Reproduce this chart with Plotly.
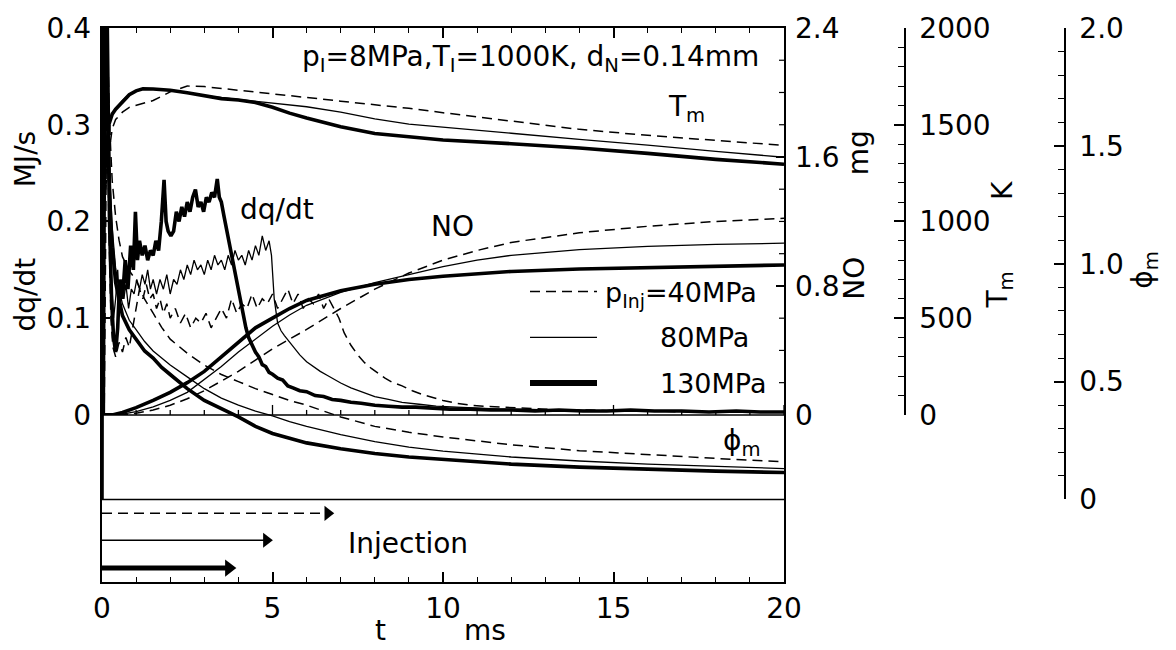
import plotly.graph_objects as go

# ---------------- data ----------------
dq_t130 = [0, 0.03, 0.06, 0.1, 0.14, 0.18, 0.22, 0.28, 0.34, 0.4, 0.46, 0.52, 0.6, 0.68, 0.76, 0.84, 0.92, 0.98,
           1.04, 1.1, 1.18, 1.26, 1.34, 1.42, 1.5, 1.58, 1.66, 1.74, 1.82, 1.88, 1.94, 2.02, 2.1, 2.18, 2.26, 2.34,
           2.42, 2.5, 2.58, 2.66, 2.74, 2.82, 2.9, 2.98, 3.06, 3.14, 3.22, 3.3, 3.38, 3.44, 3.5, 3.58, 3.66, 3.74,
           3.82, 3.9, 3.98, 4.06, 4.14, 4.22, 4.3, 4.4, 4.5, 4.6, 4.7, 4.8, 4.9, 5.0, 5.15, 5.3, 5.45, 5.6, 5.8,
           6.0, 6.25, 6.5, 6.75, 7.0, 7.3, 7.6, 8.0, 8.4, 8.8, 9.2, 9.7, 10.2, 10.8, 11.4, 12, 12.7, 13.4, 14.1,
           14.8, 15.5, 16.2, 17, 17.8, 18.6, 19.3, 20]
dq_130 = [0, -0.08, 0.2, 0.45, 0.45, 0.3, 0.2, 0.12, 0.08, 0.065, 0.09, 0.14, 0.12, 0.16, 0.13, 0.175, 0.15, 0.21,
          0.16, 0.18, 0.165, 0.175, 0.16, 0.17, 0.165, 0.18, 0.17, 0.2, 0.243, 0.2, 0.19, 0.185, 0.19, 0.21, 0.2,
          0.215, 0.205, 0.22, 0.21, 0.225, 0.233, 0.215, 0.22, 0.21, 0.225, 0.22, 0.23, 0.225, 0.244, 0.225, 0.22,
          0.205, 0.19, 0.175, 0.16, 0.145, 0.135, 0.12, 0.105, 0.09, 0.08, 0.072, 0.065, 0.06, 0.052, 0.05, 0.044,
          0.042, 0.038, 0.036, 0.03, 0.028, 0.025, 0.024, 0.02, 0.019, 0.016, 0.015, 0.013, 0.012, 0.01, 0.009,
          0.008, 0.008, 0.007, 0.006, 0.006, 0.005, 0.005, 0.004, 0.005, 0.004, 0.004, 0.005, 0.004, 0.004, 0.003,
          0.004, 0.003, 0.003]

dq_t80 = [0, 0.04, 0.08, 0.12, 0.17, 0.22, 0.28, 0.34, 0.4, 0.46, 0.52, 0.58, 0.64, 0.7, 0.78, 0.86, 0.94, 1.02,
          1.1, 1.18, 1.26, 1.34, 1.42, 1.5, 1.6, 1.7, 1.8, 1.9, 2.0, 2.1, 2.2, 2.3, 2.4, 2.5, 2.6, 2.7, 2.8, 2.9,
          3.0, 3.1, 3.2, 3.3, 3.4, 3.5, 3.6, 3.7, 3.8, 3.9, 4.0, 4.1, 4.2, 4.3, 4.4, 4.5, 4.6, 4.7, 4.8, 4.9, 4.97,
          5.05, 5.15, 5.25, 5.35, 5.5, 5.65, 5.8, 6.0, 6.2, 6.4, 6.6, 6.8, 7.0, 7.3, 7.6, 8.0, 8.4, 8.8, 9.3, 9.8,
          10.4, 11, 11.7, 12.4, 13.2, 14, 15, 16, 17, 18, 19, 20]
dq_80 = [0, -0.07, 0.25, 0.42, 0.3, 0.2, 0.14, 0.1, 0.12, 0.15, 0.11, 0.14, 0.12, 0.135, 0.11, 0.13, 0.125, 0.14,
         0.13, 0.145, 0.135, 0.15, 0.13, 0.14, 0.125, 0.14, 0.13, 0.145, 0.125, 0.14, 0.135, 0.15, 0.14, 0.155,
         0.145, 0.16, 0.15, 0.155, 0.145, 0.16, 0.15, 0.165, 0.155, 0.16, 0.15, 0.165, 0.155, 0.17, 0.16, 0.165,
         0.155, 0.17, 0.16, 0.175, 0.165, 0.185, 0.17, 0.18, 0.165, 0.12, 0.095, 0.087, 0.082, 0.075, 0.068, 0.062,
         0.055, 0.05, 0.045, 0.041, 0.037, 0.033, 0.028, 0.024, 0.019, 0.016, 0.013, 0.011, 0.009, 0.008, 0.007,
         0.006, 0.006, 0.005, 0.005, 0.004, 0.004, 0.004, 0.003, 0.003, 0.003]

dq_t40 = [0, 0.05, 0.1, 0.15, 0.2, 0.26, 0.32, 0.4, 0.5, 0.6, 0.7, 0.8, 0.9, 1.0, 1.1, 1.2, 1.3, 1.4, 1.5, 1.6,
          1.7, 1.8, 1.9, 2.0, 2.15, 2.3, 2.45, 2.6, 2.75, 2.9, 3.05, 3.2, 3.35, 3.5, 3.65, 3.8, 3.95, 4.1, 4.25,
          4.4, 4.55, 4.7, 4.85, 5.0, 5.15, 5.3, 5.45, 5.6, 5.75, 5.9, 6.05, 6.2, 6.35, 6.5, 6.65, 6.8, 6.95, 7.1,
          7.3, 7.5, 7.7, 7.9, 8.1, 8.3, 8.5, 8.8, 9.1, 9.4, 9.7, 10.0, 10.4, 10.8, 11.2, 11.7, 12.2, 12.8, 13.5,
          14.3, 15.2, 16.2, 17.2, 18.2, 19.1, 20]
dq_40 = [0, -0.06, 0.15, 0.38, 0.2, 0.1, 0.07, 0.06, 0.075, 0.065, 0.08, 0.07, 0.09, 0.11, 0.13, 0.12, 0.135,
         0.12, 0.125, 0.11, 0.12, 0.105, 0.115, 0.1, 0.11, 0.095, 0.105, 0.09, 0.1, 0.095, 0.105, 0.09, 0.1, 0.11,
         0.1, 0.12, 0.105, 0.115, 0.11, 0.125, 0.11, 0.12, 0.115, 0.125, 0.11, 0.12, 0.13, 0.115, 0.125, 0.11,
         0.12, 0.115, 0.125, 0.11, 0.12, 0.11, 0.1, 0.085, 0.072, 0.062, 0.054, 0.048, 0.043, 0.038, 0.034, 0.03,
         0.025, 0.021, 0.018, 0.015, 0.012, 0.01, 0.009, 0.008, 0.007, 0.006, 0.005, 0.005, 0.004, 0.004, 0.003,
         0.003, 0.003, 0.003]

no_t = [0, 0.3, 0.6, 1.0, 1.5, 2.0, 2.5, 3.0, 3.5, 4.0, 4.5, 5.0, 5.5, 6.0, 7.0, 8.0, 9.0, 10, 11, 12, 14, 16, 18, 20]
no_130 = [0, 0, 0.015, 0.045, 0.09, 0.14, 0.2, 0.27, 0.36, 0.45, 0.54, 0.6, 0.66, 0.71, 0.77, 0.81, 0.84, 0.86,
          0.875, 0.89, 0.905, 0.915, 0.925, 0.93]
no_80 = [0, 0, 0.005, 0.02, 0.05, 0.09, 0.14, 0.22, 0.3, 0.39, 0.47, 0.55, 0.62, 0.68, 0.76, 0.82, 0.87, 0.92,
         0.96, 0.99, 1.025, 1.045, 1.058, 1.065]
no_40 = [0, 0, 0, 0.01, 0.03, 0.06, 0.1, 0.15, 0.21, 0.27, 0.34, 0.41, 0.47, 0.53, 0.66, 0.78, 0.88, 0.96, 1.02,
         1.07, 1.13, 1.17, 1.2, 1.22]

tm_t = [0, 0.1, 0.2, 0.3, 0.4, 0.6, 0.8, 1.0, 1.2, 1.5, 2.0, 2.5, 3.0, 3.5, 4.0, 4.5, 5.0, 5.5, 6.0, 7.0, 8.0,
        9.0, 10, 12, 14, 16, 18, 20]
tm_130 = [1000, 1300, 1500, 1555, 1580, 1620, 1655, 1675, 1686, 1685, 1678, 1665, 1648, 1635, 1628, 1615, 1590,
          1560, 1535, 1490, 1455, 1436, 1421, 1402, 1380, 1352, 1321, 1296]
tm_80 = [1000, 1280, 1490, 1560, 1585, 1625, 1658, 1676, 1686, 1685, 1676, 1665, 1650, 1640, 1630, 1622, 1613,
         1603, 1593, 1565, 1530, 1503, 1488, 1456, 1424, 1395, 1362, 1332]
tm_40 = [1000, 1150, 1350, 1480, 1527, 1565, 1590, 1600, 1608, 1625, 1670, 1700, 1697, 1688, 1676, 1668, 1660,
         1652, 1640, 1622, 1603, 1585, 1562, 1518, 1476, 1445, 1418, 1393]

phi_t = [0, 0.02, 0.1, 0.15, 0.2, 0.25, 0.3, 0.4, 0.5, 0.6, 0.8, 1.0, 1.25, 1.5, 1.75, 2.0, 2.5, 3.0, 3.5, 4.0,
         4.5, 5.0, 5.5, 6.0, 7.0, 8.0, 9.0, 10, 12, 14, 16, 18, 20]
phi_130 = [0, 3.0, 2.1, 1.7, 1.4, 1.2, 1.07, 0.92, 0.84, 0.78, 0.72, 0.68, 0.63, 0.6, 0.56, 0.53, 0.47, 0.42,
           0.385, 0.35, 0.31, 0.28, 0.26, 0.24, 0.215, 0.195, 0.18, 0.17, 0.15, 0.137, 0.127, 0.12, 0.114]
phi_80 = [0, 3.0, 2.2, 1.8, 1.5, 1.3, 1.15, 0.98, 0.89, 0.83, 0.76, 0.72, 0.67, 0.63, 0.6, 0.57, 0.52, 0.47,
          0.43, 0.4, 0.375, 0.355, 0.33, 0.31, 0.275, 0.245, 0.222, 0.205, 0.18, 0.163, 0.15, 0.14, 0.131]
phi_40 = [0, 3.0, 2.4, 2.0, 1.7, 1.5, 1.35, 1.2, 1.1, 1.03, 0.97, 0.93, 0.85, 0.79, 0.73, 0.68, 0.62, 0.57,
          0.53, 0.5, 0.47, 0.445, 0.42, 0.4, 0.35, 0.31, 0.285, 0.265, 0.232, 0.207, 0.19, 0.174, 0.16]

inj_end = [6.8, 5.0, 3.9]          # injection duration, ms (40, 80, 130 MPa)
legend_names = ["p<sub>Inj</sub>=40MPa", "80MPa", "130MPa"]

x_ticks = [0, 5, 10, 15, 20]
x_minor = list(range(0, 21))
dq_ticks = [0, 0.1, 0.2, 0.3, 0.4]
no_ticks = [0, 0.8, 1.6, 2.4]
no_minor = [0.2, 0.4, 0.6, 1.0, 1.2, 1.4, 1.8, 2.0, 2.2]
tm_ticks = [0, 500, 1000, 1500, 2000]
phi_ticks = [0, 0.5, 1.0, 1.5, 2.0]
phi_ticktext = ["0", "0.5", "1.0", "1.5", "2.0"]

# ---------------- geometry ----------------
W, H = 1176, 650
L, R, T, B = 102, 76, 25, 68
PW, PH = W - L - R, H - T - B


def px(x):
    return (x - L) / PW


def py(y):
    return (H - B - y) / PH


FONT = "DejaVu Sans"
FS = 28
BLACK = "black"
DASH = "10px,6px"

styles = [dict(color=BLACK, width=1.5, dash=DASH),
          dict(color=BLACK, width=1.3),
          dict(color=BLACK, width=3.6)]

fig = go.Figure()

series = [
    ("y", [(dq_t40, dq_40), (dq_t80, dq_80), (dq_t130, dq_130)]),
    ("y2", [(no_t, no_40), (no_t, no_80), (no_t, no_130)]),
    ("y3", [(tm_t, tm_40), (tm_t, tm_80), (tm_t, tm_130)]),
    ("y4", [(phi_t, phi_40), (phi_t, phi_80), (phi_t, phi_130)]),
]
for yax, group in series:
    for (tx, vy), st in zip(group, styles):
        fig.add_trace(go.Scatter(x=tx, y=vy, mode="lines", line=st, xaxis="x", yaxis=yax,
                                 showlegend=False, hoverinfo="skip"))

# injection arrows (bottom strip)
lanes = [py(513), py(540), py(568)]
inj_widths = [1.5, 1.3, 5]
inj_heads = [13, 13, 15]
for i in range(3):
    st = dict(styles[i])
    st["width"] = inj_widths[i]
    fig.add_trace(go.Scatter(x=[0, inj_end[i] - 0.15], y=[lanes[i], lanes[i]], mode="lines", line=st,
                             xaxis="x", yaxis="y5", showlegend=False, hoverinfo="skip"))
    fig.add_trace(go.Scatter(x=[inj_end[i] - 0.18], y=[lanes[i]], mode="markers",
                             marker=dict(symbol="triangle-right", size=inj_heads[i], color=BLACK,
                                         line=dict(width=0)),
                             xaxis="x", yaxis="y5", showlegend=False, hoverinfo="skip"))

tick_font = dict(family=FONT, size=FS, color=BLACK)
xdom = [0, px(784)]

fig.update_layout(
    width=W, height=H, margin=dict(l=L, r=R, t=T, b=B),
    paper_bgcolor="white", plot_bgcolor="rgba(0,0,0,0)", showlegend=False,
    font=dict(family=FONT, size=FS, color=BLACK),
    xaxis=dict(domain=xdom, range=[0, 20], anchor="y5", showline=True, linecolor=BLACK, linewidth=1.5,
               mirror="ticks", ticks="inside", ticklen=10, tickwidth=1.5, tickcolor=BLACK,
               tickvals=x_ticks, ticktext=[str(v) for v in x_ticks], tickfont=tick_font,
               ticklabelstandoff=1,
               minor=dict(dtick=1, tick0=0, ticks="inside", ticklen=5, tickwidth=1.2, tickcolor=BLACK),
               showgrid=False, zeroline=False),
    yaxis=dict(domain=[py(414), 1], range=[0, 0.4], anchor="x", side="left", showline=False,
               ticks="inside", ticklen=8, tickwidth=1.5, tickcolor=BLACK, tickvals=dq_ticks,
               ticktext=["0", "0.1", "0.2", "0.3", "0.4"], tickfont=tick_font, ticklabelstandoff=10,
               showgrid=False, zeroline=False),
    yaxis2=dict(overlaying="y", range=[0, 2.4], anchor="x", side="right", showline=False,
                ticks="inside", ticklen=8, tickwidth=1.5, tickcolor=BLACK, tickvals=no_ticks,
                ticktext=["0", "0.8", "1.6", "2.4"], tickfont=tick_font, ticklabelstandoff=10,
                showgrid=False, zeroline=False),
    yaxis3=dict(overlaying="y", range=[0, 2000], anchor="free", position=px(905), side="right",
                showline=True, linecolor=BLACK, linewidth=1.5, ticks="inside", ticklen=10, tickwidth=1.5,
                tickcolor=BLACK, tickvals=tm_ticks, ticktext=[str(v) for v in tm_ticks], tickfont=tick_font,
                ticklabelstandoff=8,
                minor=dict(dtick=100, tick0=0, ticks="inside", ticklen=6, tickwidth=1.2, tickcolor=BLACK),
                showgrid=False, zeroline=False),
    yaxis4=dict(domain=[py(499), 1], range=[0, 2.0], anchor="free", position=px(1065), side="right",
                showline=True, linecolor=BLACK, linewidth=1.5, ticks="inside", ticklen=10, tickwidth=1.5,
                tickcolor=BLACK, tickvals=phi_ticks, ticktext=phi_ticktext, tickfont=tick_font,
                ticklabelstandoff=8,
                minor=dict(dtick=0.1, tick0=0, ticks="inside", ticklen=6, tickwidth=1.2, tickcolor=BLACK),
                showgrid=False, zeroline=False),
    yaxis5=dict(domain=[0, 1], range=[0, 1], anchor="x", showline=True, mirror=True, linecolor=BLACK,
                linewidth=1.5, ticks="", showticklabels=False, showgrid=False, zeroline=False),
)

# NO axis minor ticks and the two inner horizontal rules (with their ms ticks on the zero line)
for v in no_minor:
    fig.add_shape(type="line", xref="x domain", yref="y2", x0=1, x1=1 - 5 / 682, y0=v, y1=v,
                  line=dict(color=BLACK, width=1.2))
fig.add_shape(type="line", xref="x domain", yref="paper", x0=0, x1=1, y0=py(414), y1=py(414),
              line=dict(color=BLACK, width=1.5))
fig.add_shape(type="line", xref="x domain", yref="paper", x0=0, x1=1, y0=py(499), y1=py(499),
              line=dict(color=BLACK, width=1.5))
for v in x_minor:
    tl = 10 if v % 5 == 0 else 5
    fig.add_shape(type="line", xref="x", yref="paper", x0=v, x1=v, y0=py(414), y1=py(414 - tl),
                  line=dict(color=BLACK, width=1.3))


def label(text, x, y, angle=0, xanchor="center", size=FS, yanchor="middle"):
    fig.add_annotation(text=text, x=px(x), y=py(y), xref="paper", yref="paper", showarrow=False,
                       textangle=angle, xanchor=xanchor, yanchor=yanchor,
                       font=dict(family=FONT, size=size, color=BLACK))


# axis titles
label("MJ/s", 25, 157, -90)
label("dq/dt", 26, 293, -90)
label("mg", 858, 151, -90)
label("NO", 855, 277, -90)
label("K", 1002, 189, -90)
label("T<sub>m</sub>", 1000, 289, -90)
label("ϕ<sub>m</sub>", 1145, 268, -90)
label("t", 380, 649, yanchor="bottom")
label("ms", 485, 649, yanchor="bottom")

# in-plot labels
label("p<sub>I</sub>=8MPa,T<sub>I</sub>=1000K, d<sub>N</sub>=0.14mm", 300, 56, xanchor="left")
label("T<sub>m</sub>", 686, 106)
label("dq/dt", 277, 207)
label("NO", 452, 225)
label("ϕ<sub>m</sub>", 742, 442)
label("Injection", 408, 543)

# legend keys
leg_y = [290, 336, 382]
leg_w = [1.5, 1.3, 6]
for i in range(3):
    ln = dict(color=BLACK, width=leg_w[i])
    if i == 0:
        ln["dash"] = DASH
    fig.add_shape(type="line", xref="paper", yref="paper", x0=px(530), x1=px(597), y0=py(leg_y[i]),
                  y1=py(leg_y[i]), line=ln)
label(legend_names[0], 603, leg_y[0] + 3, xanchor="left", size=27)
label(legend_names[1], 658, leg_y[1], xanchor="left", size=27)
label(legend_names[2], 658, leg_y[2], xanchor="left", size=27)

fig.write_html("out.html")
